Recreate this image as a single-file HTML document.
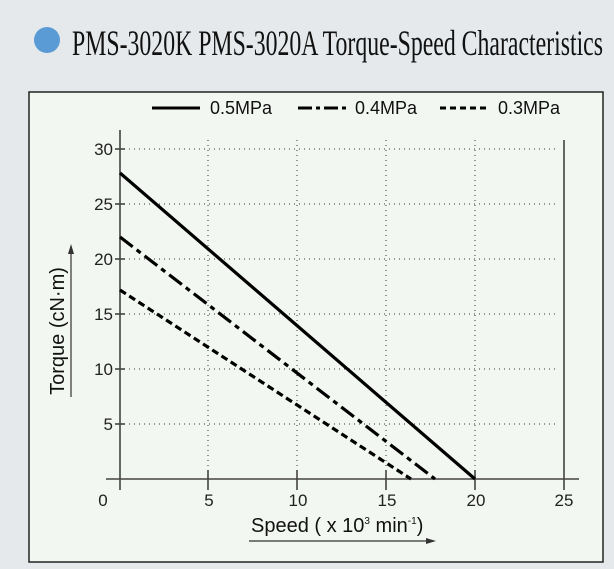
<!DOCTYPE html>
<html><head><meta charset="utf-8"><style>
html,body{margin:0;padding:0;width:614px;height:569px;overflow:hidden;background:#e6eaec;}
</style></head><body>
<svg width="614" height="569" xmlns="http://www.w3.org/2000/svg" font-family="Liberation Sans, sans-serif">
<rect width="614" height="569" fill="#e5e9eb"/>
<circle cx="47" cy="40" r="13" fill="#5b9bd5"/>
<text x="72" y="55" font-family="Liberation Serif, serif" font-size="36" fill="#111" textLength="531" lengthAdjust="spacingAndGlyphs">PMS-3020K  PMS-3020A Torque-Speed Characteristics</text>
<rect x="29" y="92" width="574" height="470" fill="#f3f7f1" stroke="#222" stroke-width="1.5"/>
<g font-size="18" fill="#111">
<line x1="152" y1="108" x2="200" y2="108" stroke="#000" stroke-width="3"/>
<text x="210" y="114">0.5MPa</text>
<line x1="298" y1="108" x2="346" y2="108" stroke="#000" stroke-width="3" stroke-dasharray="14,4,4,4"/>
<text x="355" y="114">0.4MPa</text>
<line x1="440" y1="108" x2="488" y2="108" stroke="#000" stroke-width="3" stroke-dasharray="6,4"/>
<text x="498" y="114">0.3MPa</text>
</g>
<g stroke="#333" stroke-width="1" stroke-dasharray="1,4">
<line x1="124" y1="149" x2="556" y2="149"/>
<line x1="124" y1="204" x2="556" y2="204"/>
<line x1="124" y1="259" x2="556" y2="259"/>
<line x1="124" y1="314" x2="556" y2="314"/>
<line x1="124" y1="369" x2="556" y2="369"/>
<line x1="124" y1="424" x2="556" y2="424"/>
<line x1="208" y1="140" x2="208" y2="479"/>
<line x1="297" y1="140" x2="297" y2="479"/>
<line x1="386" y1="140" x2="386" y2="479"/>
<line x1="475" y1="140" x2="475" y2="479"/>
</g>
<g stroke="#444" stroke-width="1.6">
<line x1="120" y1="130" x2="120" y2="490"/>
<line x1="106" y1="479" x2="579" y2="479"/>
<line x1="564" y1="140" x2="564" y2="490"/>
<line x1="208" y1="470" x2="208" y2="490"/>
<line x1="297" y1="470" x2="297" y2="490"/>
<line x1="386" y1="470" x2="386" y2="490"/>
<line x1="475" y1="470" x2="475" y2="490"/>
<line x1="115" y1="149" x2="125" y2="149"/>
<line x1="115" y1="204" x2="125" y2="204"/>
<line x1="115" y1="259" x2="125" y2="259"/>
<line x1="115" y1="314" x2="125" y2="314"/>
<line x1="115" y1="369" x2="125" y2="369"/>
<line x1="115" y1="424" x2="125" y2="424"/>
</g>
<g font-size="17" fill="#222" text-anchor="end">
<text x="113" y="155">30</text><text x="113" y="210">25</text><text x="113" y="265">20</text>
<text x="113" y="320">15</text><text x="113" y="375">10</text><text x="113" y="430">5</text>
</g>
<g font-size="17" fill="#222" text-anchor="middle">
<text x="103" y="506">0</text><text x="209" y="506">5</text><text x="298" y="506">10</text>
<text x="387" y="506">15</text><text x="476" y="506">20</text><text x="564" y="506">25</text>
</g>
<line x1="120" y1="173" x2="475" y2="479" stroke="#000" stroke-width="3.2"/>
<line x1="120" y1="237" x2="435" y2="479" stroke="#000" stroke-width="3.2" stroke-dasharray="16,5,5,5"/>
<line x1="120" y1="290" x2="411" y2="479" stroke="#000" stroke-width="3.2" stroke-dasharray="7,4"/>
<text x="251" y="532" font-size="20" fill="#111">Speed ( x 10<tspan font-size="10" dy="-8">3</tspan><tspan dy="8"> min</tspan><tspan font-size="10" dy="-8">-1</tspan><tspan dy="8">)</tspan></text>
<line x1="249" y1="541" x2="428" y2="541" stroke="#333" stroke-width="1.2"/>
<polygon points="436,541 426,538 426,544" fill="#333"/>
<text transform="translate(64,331) rotate(-90)" font-size="20" fill="#111" text-anchor="middle">Torque (cN·m)</text>
<line x1="71" y1="397" x2="71" y2="252" stroke="#333" stroke-width="1.2"/>
<polygon points="71,244 68,254 74,254" fill="#333"/>
</svg>
</body></html>
